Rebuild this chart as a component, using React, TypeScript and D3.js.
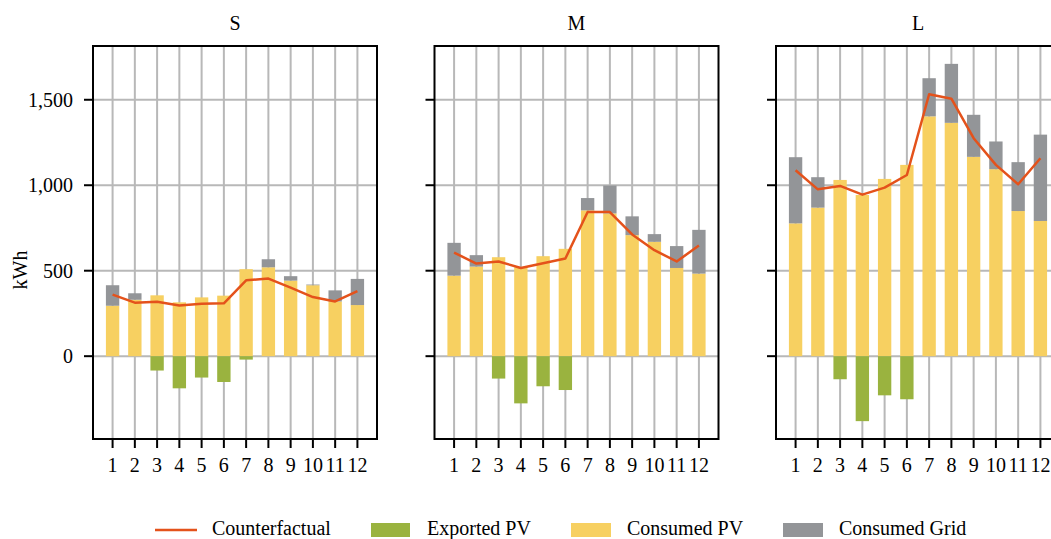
import React from 'react';
import * as d3 from 'd3';

const months = [1, 2, 3, 4, 5, 6, 7, 8, 9, 10, 11, 12];
const panelNames = ['S', 'M', 'L'];
const yTicks = [0, 500, 1000, 1500];

// kWh per month
const consumedPV_S = [295, 330, 356, 315, 344, 354, 509, 520, 442, 415, 320, 299];
const consumedGrid_S = [120, 38, 0, 0, 0, 0, 0, 47, 26, 4, 65, 153];
const exportedPV_S = [0, 0, -84, -188, -125, -151, -20, 0, 0, 0, 0, 0];
const counterfactual_S = [360, 313, 319, 297, 307, 309, 444, 454, 401, 346, 320, 380];

const consumedPV_M = [471, 524, 579, 520, 585, 628, 853, 835, 708, 669, 516, 483];
const consumedGrid_M = [192, 67, 0, 0, 0, 0, 72, 163, 110, 45, 128, 256];
const exportedPV_M = [0, 0, -131, -276, -176, -198, 0, 0, 0, 0, 0, 0];
const counterfactual_M = [606, 542, 554, 516, 544, 571, 843, 843, 712, 620, 554, 647];

const consumedPV_L = [777, 869, 1031, 943, 1037, 1119, 1403, 1365, 1166, 1094, 849, 791];
const consumedGrid_L = [387, 178, 0, 0, 0, 0, 223, 345, 246, 162, 286, 505];
const exportedPV_L = [0, 0, -135, -380, -229, -252, 0, 0, 0, 0, 0, 0];
const counterfactual_L = [1088, 976, 996, 945, 986, 1060, 1532, 1506, 1275, 1119, 1006, 1158];

const panels = [
  { name: panelNames[0], pv: consumedPV_S, grid: consumedGrid_S, exp: exportedPV_S, cf: counterfactual_S },
  { name: panelNames[1], pv: consumedPV_M, grid: consumedGrid_M, exp: exportedPV_M, cf: counterfactual_M },
  { name: panelNames[2], pv: consumedPV_L, grid: consumedGrid_L, exp: exportedPV_L, cf: counterfactual_L },
];

const colors = {
  line: '#e4521b',
  exported: '#9ab33f',
  pv: '#f7d061',
  grid: '#939598',
  gridLine: '#b8b8b8',
};

const W = 1051;
const H = 539;
const panelLefts = [93, 434.5, 776];
const panelW = 284;
const top = 46;
const bottom = 439;
const barW = 0.6;
const font = '"Liberation Serif", "Times New Roman", serif';

const allMax = d3.max(panels.flatMap(p => p.pv.map((v, i) => v + p.grid[i]))) as number;
const allMin = d3.min(panels.flatMap(p => p.exp)) as number;
const pad = (allMax - allMin) * 0.05;

const y = d3.scaleLinear().domain([allMin - pad, allMax + pad]).range([bottom, top]);
const x = d3.scaleLinear().domain([1 - barW / 2 - 0.58, 12 + barW / 2 + 0.58]).range([0, panelW]);

function Panel({ p, left, showLabels }: { p: typeof panels[0]; left: number; showLabels: boolean }) {
  const line = d3.line<number>()
    .x((_, i) => x(months[i]))
    .y(d => y(d));
  const bw = x(barW) - x(0);
  return (
    <g transform={`translate(${left},0)`}>
      <text x={panelW / 2} y={30} textAnchor="middle" fontSize={20} fontFamily={font}>{p.name}</text>
      {months.map(m => (
        <line key={'gx' + m} x1={x(m)} x2={x(m)} y1={top} y2={bottom} stroke={colors.gridLine} strokeWidth={2} />
      ))}
      {yTicks.map(t => (
        <line key={'gy' + t} x1={0} x2={panelW} y1={y(t)} y2={y(t)} stroke={colors.gridLine} strokeWidth={2} />
      ))}
      {months.map((m, i) => (
        <g key={'b' + m}>
          <rect x={x(m) - bw / 2} width={bw} y={y(p.pv[i])} height={y(0) - y(p.pv[i])} fill={colors.pv} />
          {p.grid[i] > 0 && (
            <rect x={x(m) - bw / 2} width={bw} y={y(p.pv[i] + p.grid[i])} height={y(p.pv[i]) - y(p.pv[i] + p.grid[i])} fill={colors.grid} />
          )}
          {p.exp[i] < 0 && (
            <rect x={x(m) - bw / 2} width={bw} y={y(0)} height={y(p.exp[i]) - y(0)} fill={colors.exported} />
          )}
        </g>
      ))}
      <path d={line(p.cf) || ''} fill="none" stroke={colors.line} strokeWidth={2.5} strokeLinejoin="round" />
      <rect x={0} y={top} width={panelW} height={bottom - top} fill="none" stroke="#000" strokeWidth={2} />
      {months.map(m => (
        <g key={'tx' + m}>
          <line x1={x(m)} x2={x(m)} y1={bottom} y2={bottom + 9} stroke="#000" strokeWidth={2} />
          <text x={x(m)} y={472} textAnchor="middle" fontSize={20} fontFamily={font}>{m}</text>
        </g>
      ))}
      {yTicks.map(t => (
        <g key={'ty' + t}>
          <line x1={-9} x2={0} y1={y(t)} y2={y(t)} stroke="#000" strokeWidth={2} />
          {showLabels && (
            <text x={-20} y={y(t)} dy="0.35em" textAnchor="end" fontSize={20} fontFamily={font}>{d3.format(',')(t)}</text>
          )}
        </g>
      ))}
    </g>
  );
}

export default function App() {
  return (
    <svg width={W} height={H} style={{ position: 'absolute', left: 0, top: 0, background: '#fff' }}>
      {panels.map((p, i) => (
        <Panel key={p.name} p={p} left={panelLefts[i]} showLabels={i === 0} />
      ))}
      <text transform="translate(27,270) rotate(-90)" textAnchor="middle" fontSize={20} fontFamily={font}>kWh</text>
      <g fontFamily={font} fontSize={20}>
        <line x1={155} x2={197} y1={530} y2={530} stroke={colors.line} strokeWidth={2.5} />
        <text x={212} y={535}>Counterfactual</text>
        <rect x={371} y={523} width={39} height={14} fill={colors.exported} />
        <text x={427} y={535}>Exported PV</text>
        <rect x={571} y={523} width={40} height={14} fill={colors.pv} />
        <text x={627} y={535}>Consumed PV</text>
        <rect x={783} y={523} width={40} height={14} fill={colors.grid} />
        <text x={839} y={535}>Consumed Grid</text>
      </g>
    </svg>
  );
}
